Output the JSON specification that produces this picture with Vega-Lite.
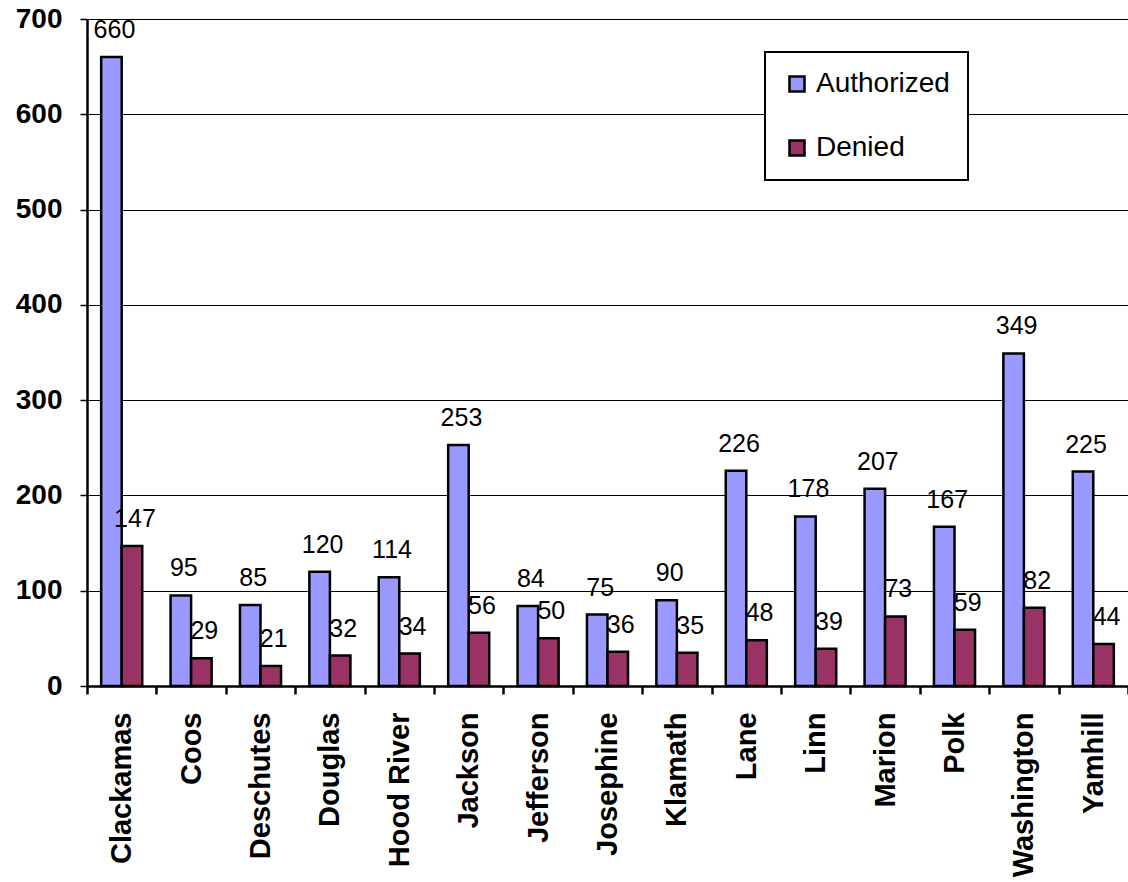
{
  "$schema": "https://vega.github.io/schema/vega-lite/v6.json",
  "width": 1041,
  "height": 667,
  "autosize": "none",
  "padding": {"left": 87, "top": 19, "right": 0, "bottom": 196},
  "background": "white",
  "config": {"view": {"stroke": null}, "font": "Liberation Sans", "legend": {"strokeWidth": 2}},
  "data": {
    "values": [
      {"county": "Clackamas", "status": "Authorized", "value": 660},
      {"county": "Clackamas", "status": "Denied", "value": 147},
      {"county": "Coos", "status": "Authorized", "value": 95},
      {"county": "Coos", "status": "Denied", "value": 29},
      {"county": "Deschutes", "status": "Authorized", "value": 85},
      {"county": "Deschutes", "status": "Denied", "value": 21},
      {"county": "Douglas", "status": "Authorized", "value": 120},
      {"county": "Douglas", "status": "Denied", "value": 32},
      {"county": "Hood River", "status": "Authorized", "value": 114},
      {"county": "Hood River", "status": "Denied", "value": 34},
      {"county": "Jackson", "status": "Authorized", "value": 253},
      {"county": "Jackson", "status": "Denied", "value": 56},
      {"county": "Jefferson", "status": "Authorized", "value": 84},
      {"county": "Jefferson", "status": "Denied", "value": 50},
      {"county": "Josephine", "status": "Authorized", "value": 75},
      {"county": "Josephine", "status": "Denied", "value": 36},
      {"county": "Klamath", "status": "Authorized", "value": 90},
      {"county": "Klamath", "status": "Denied", "value": 35},
      {"county": "Lane", "status": "Authorized", "value": 226},
      {"county": "Lane", "status": "Denied", "value": 48},
      {"county": "Linn", "status": "Authorized", "value": 178},
      {"county": "Linn", "status": "Denied", "value": 39},
      {"county": "Marion", "status": "Authorized", "value": 207},
      {"county": "Marion", "status": "Denied", "value": 73},
      {"county": "Polk", "status": "Authorized", "value": 167},
      {"county": "Polk", "status": "Denied", "value": 59},
      {"county": "Washington", "status": "Authorized", "value": 349},
      {"county": "Washington", "status": "Denied", "value": 82},
      {"county": "Yamhill", "status": "Authorized", "value": 225},
      {"county": "Yamhill", "status": "Denied", "value": 44}
    ]
  },
  "encoding": {
    "x": {
      "field": "county", "type": "nominal", "sort": null,
      "scale": {"paddingInner": 0, "paddingOuter": 0},
      "axis": {
        "title": null, "labelAngle": -90, "labelFontSize": 29, "labelFontWeight": "bold",
        "labelColor": "black", "tickColor": "black", "tickSize": 8, "tickWidth": 2.5,
        "domainColor": "black", "domainWidth": 2.5, "labelPadding": 18,
        "tickBand": "extent", "grid": false, "labelLimit": 300
      }
    },
    "xOffset": {
      "field": "status", "type": "nominal", "sort": ["Authorized", "Denied"],
      "scale": {"paddingInner": 0, "paddingOuter": 0.69}
    },
    "y": {
      "field": "value", "type": "quantitative",
      "scale": {"domain": [0, 700], "nice": false},
      "axis": {
        "title": null, "values": [0, 100, 200, 300, 400, 500, 600, 700],
        "grid": true, "gridColor": "black", "gridWidth": 1, "gridOpacity": 1,
        "labelFontSize": 28, "labelFontWeight": "bold", "labelColor": "black",
        "tickColor": "black", "tickSize": 7, "tickWidth": 1.5,
        "domainColor": "black", "domainWidth": 2.5, "labelPadding": 18
      }
    }
  },
  "layer": [
    {
      "mark": {"type": "bar", "stroke": "black", "strokeWidth": 2.5},
      "encoding": {
        "color": {
          "field": "status", "type": "nominal",
          "scale": {"domain": ["Authorized", "Denied"], "range": ["#9999ff", "#993366"]},
          "legend": {
            "title": null, "orient": "none", "legendX": 678, "legendY": 33,
            "fillColor": "white", "strokeColor": "black",
            "padding": 18, "symbolType": "square", "symbolSize": 225,
            "symbolStrokeColor": "black", "symbolStrokeWidth": 2.5, "symbolOpacity": 1,
            "labelFontSize": 28, "labelColor": "black", "labelOffset": 5,
            "rowPadding": 36, "labelLimit": 300
          }
        }
      }
    },
    {
      "mark": {"type": "text", "baseline": "alphabetic", "dy": -19, "dx": 3, "fontSize": 25, "color": "black"},
      "encoding": {"text": {"field": "value", "type": "quantitative"}}
    }
  ]
}
